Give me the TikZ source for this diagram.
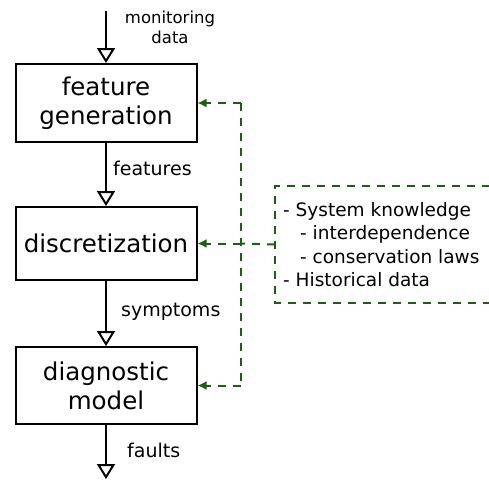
\documentclass[tikz,border=0pt]{standalone}
\usepackage{fontspec}
\setmainfont{DejaVu Sans}
\usetikzlibrary{arrows.meta}
\definecolor{kgreen}{RGB}{26,96,16}
\tikzset{
  stage/.style={draw, line width=2pt, minimum width=181pt, minimum height=77pt,
    align=center, inner sep=0pt, font=\fontsize{24.5}{29}\selectfont},
  flow/.style={line width=2pt, -{Triangle[open, length=15pt, width=18pt, line width=2pt]}},
  flowlabel/.style={anchor=base west, inner sep=0pt, font=\fontsize{19}{23}\selectfont},
  gdash/.style={kgreen, line width=2pt, dash pattern=on 8pt off 7pt},
  garrow/.style={gdash, -{Latex[length=9pt, width=9pt]}},
}
\begin{document}
\begin{tikzpicture}[x=1pt, y=-1pt]
\useasboundingbox (0,0) rectangle (489,479);

% processing chain
\node[stage, minimum height=78pt] (gen) at (106,103) {feature\\generation};
\node[stage, minimum height=73pt] (disc) at (106,243.5) {discretization};
\node[stage] (diag) at (106,385.5) {diagnostic\\model};

\coordinate (in) at (106,11);
\coordinate (out) at (106,479);
\node[align=center, inner sep=0pt, font=\fontsize{16.5}{20}\selectfont] (mon) at (170,27) {monitoring\\data};

\draw[flow] (in) -- (gen);
\draw[flow] (gen) -- (disc);
\draw[flow] (disc) -- (diag);
\draw[flow] (diag) -- (out);

\node[flowlabel] (lf) at (113,175) {features};
\node[flowlabel] (ls) at (121,316) {symptoms};
\node[flowlabel] (lt) at (127,457) {faults};

% prior knowledge box (continues past the right edge)
\node[anchor=west, align=left, inner xsep=8pt, inner ysep=0pt, minimum height=117pt,
  font=\fontsize{18.5}{23.5}\selectfont] (kb) at (275,244.5)
  {- System knowledge\\\hspace*{17pt}- interdependence\\\hspace*{17pt}- conservation laws\\- Historical data};
\draw[gdash] (kb.north west) ++(230,0) -- (kb.north west) -- (kb.south west) -- ++(230,0);

% knowledge feeds every stage
\path (gen.east) ++(43,0) coordinate (j1);
\path (disc.east) ++(43,0) coordinate (j2);
\path (diag.east) ++(43,0) coordinate (j3);
\draw[gdash] (j1) -- (j3);
\draw[gdash] (kb.west) -- (j2);
\draw[garrow] (j1) -- (gen.east);
\draw[garrow] (j2) -- (disc.east);
\draw[garrow] (j3) -- (diag.east);
\end{tikzpicture}
\end{document}
